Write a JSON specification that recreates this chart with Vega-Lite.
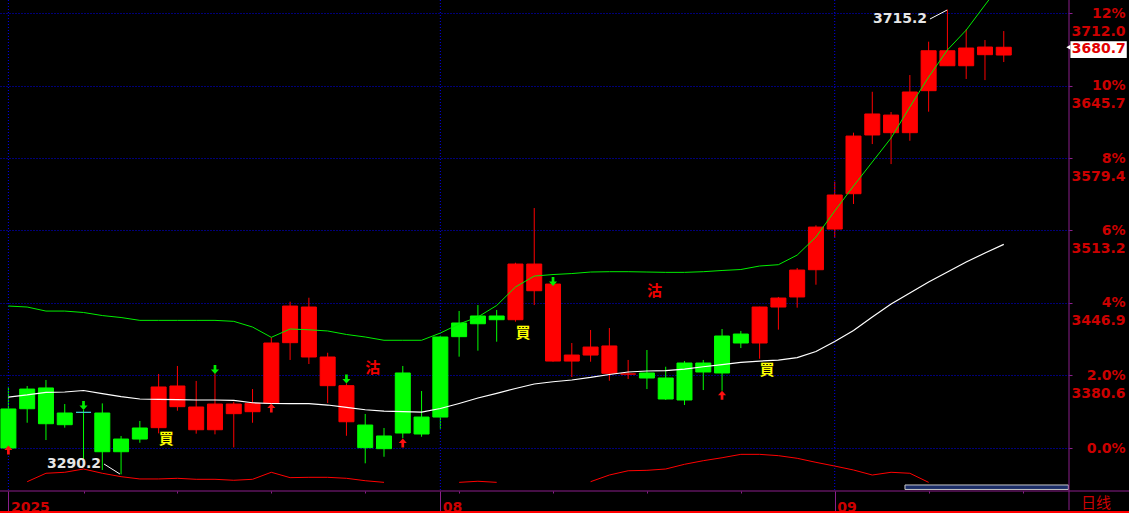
{
  "$schema": "https://vega.github.io/schema/vega-lite/v6.json",
  "width": 1069,
  "height": 491,
  "autosize": {"type": "none"},
  "padding": {"left": 0, "top": 0, "right": 60, "bottom": 22},
  "background": "#000000",
  "config": {"view": {"stroke": null}},
  "datasets": {
    "k": [
      {"i": 0, "o": 3350.0, "h": 3370.3, "l": 3313.5, "c": 3314.3, "g": 3444.1, "w": 3360.9, "r": null},
      {"i": 1, "o": 3368.2, "h": 3371.0, "l": 3337.4, "c": 3350.2, "g": 3443.2, "w": 3362.8, "r": 3283.5},
      {"i": 2, "o": 3369.2, "h": 3376.5, "l": 3321.6, "c": 3336.5, "g": 3439.5, "w": 3365.2, "r": 3291.2},
      {"i": 3, "o": 3346.3, "h": 3354.5, "l": 3332.9, "c": 3335.6, "g": 3439.5, "w": 3365.5, "r": 3292.1},
      {"i": 4, "o": 3346.9, "h": 3349.0, "l": 3304.0, "c": 3346.9, "g": 3438.2, "w": 3366.9, "r": 3295.1},
      {"i": 5, "o": 3346.3, "h": 3355.1, "l": 3294.2, "c": 3310.9, "g": 3435.4, "w": 3364.1, "r": 3291.2},
      {"i": 6, "o": 3322.5, "h": 3325.3, "l": 3290.2, "c": 3310.9, "g": 3433.6, "w": 3361.2, "r": 3288.1},
      {"i": 7, "o": 3332.6, "h": 3339.0, "l": 3319.1, "c": 3322.5, "g": 3431.0, "w": 3359.1, "r": 3286.0},
      {"i": 8, "o": 3332.9, "h": 3382.0, "l": 3327.7, "c": 3370.1, "g": 3431.0, "w": 3358.7, "r": 3286.0},
      {"i": 9, "o": 3352.1, "h": 3389.3, "l": 3348.4, "c": 3371.0, "g": 3431.0, "w": 3358.5, "r": 3286.6},
      {"i": 10, "o": 3331.0, "h": 3375.6, "l": 3327.4, "c": 3351.8, "g": 3431.0, "w": 3358.2, "r": 3285.7},
      {"i": 11, "o": 3331.0, "h": 3382.6, "l": 3326.8, "c": 3354.5, "g": 3431.0, "w": 3358.2, "r": 3285.7},
      {"i": 12, "o": 3345.7, "h": 3356.6, "l": 3314.8, "c": 3354.5, "g": 3430.1, "w": 3357.9, "r": 3284.8},
      {"i": 13, "o": 3347.5, "h": 3368.2, "l": 3337.4, "c": 3355.1, "g": 3424.9, "w": 3355.7, "r": 3285.7},
      {"i": 14, "o": 3355.4, "h": 3415.5, "l": 3355.4, "c": 3410.3, "g": 3415.5, "w": 3355.0, "r": 3292.1},
      {"i": 15, "o": 3410.6, "h": 3448.1, "l": 3394.8, "c": 3444.1, "g": 3423.1, "w": 3354.8, "r": 3287.2},
      {"i": 16, "o": 3397.5, "h": 3451.7, "l": 3391.1, "c": 3443.2, "g": 3422.4, "w": 3354.8, "r": 3287.5},
      {"i": 17, "o": 3371.3, "h": 3401.4, "l": 3355.4, "c": 3397.5, "g": 3421.3, "w": 3353.6, "r": 3287.5},
      {"i": 18, "o": 3338.3, "h": 3373.4, "l": 3325.5, "c": 3371.3, "g": 3418.1, "w": 3351.5, "r": 3286.6},
      {"i": 19, "o": 3335.3, "h": 3345.4, "l": 3300.3, "c": 3314.6, "g": 3415.8, "w": 3349.3, "r": 3284.4},
      {"i": 20, "o": 3325.3, "h": 3332.6, "l": 3306.3, "c": 3313.7, "g": 3412.8, "w": 3348.1, "r": 3282.9},
      {"i": 21, "o": 3382.9, "h": 3389.3, "l": 3323.2, "c": 3328.0, "g": 3412.8, "w": 3347.5, "r": null},
      {"i": 22, "o": 3342.6, "h": 3366.4, "l": 3324.6, "c": 3327.1, "g": 3412.8, "w": 3347.2, "r": null},
      {"i": 23, "o": 3415.8, "h": 3417.0, "l": 3331.9, "c": 3342.6, "g": 3419.4, "w": 3350.4, "r": null},
      {"i": 24, "o": 3428.6, "h": 3439.6, "l": 3397.8, "c": 3416.1, "g": 3427.7, "w": 3355.0, "r": 3282.9},
      {"i": 25, "o": 3435.0, "h": 3445.0, "l": 3403.3, "c": 3427.9, "g": 3434.1, "w": 3360.0, "r": 3283.9},
      {"i": 26, "o": 3435.0, "h": 3440.5, "l": 3411.5, "c": 3431.6, "g": 3444.6, "w": 3364.3, "r": 3282.9},
      {"i": 27, "o": 3431.6, "h": 3483.7, "l": 3429.8, "c": 3482.5, "g": 3461.5, "w": 3368.7, "r": null},
      {"i": 28, "o": 3458.1, "h": 3533.7, "l": 3445.0, "c": 3482.5, "g": 3471.5, "w": 3372.8, "r": null},
      {"i": 29, "o": 3393.8, "h": 3465.2, "l": 3393.2, "c": 3464.2, "g": 3472.9, "w": 3374.9, "r": null},
      {"i": 30, "o": 3393.8, "h": 3410.3, "l": 3379.2, "c": 3399.3, "g": 3473.8, "w": 3376.5, "r": null},
      {"i": 31, "o": 3399.3, "h": 3422.2, "l": 3393.2, "c": 3406.6, "g": 3475.2, "w": 3378.8, "r": 3283.5},
      {"i": 32, "o": 3382.6, "h": 3424.0, "l": 3375.8, "c": 3407.6, "g": 3475.5, "w": 3381.5, "r": 3289.6},
      {"i": 33, "o": 3381.9, "h": 3394.8, "l": 3377.4, "c": 3382.0, "g": 3475.5, "w": 3383.8, "r": 3293.5},
      {"i": 34, "o": 3382.9, "h": 3403.9, "l": 3368.2, "c": 3378.3, "g": 3475.2, "w": 3384.7, "r": 3293.9},
      {"i": 35, "o": 3378.3, "h": 3388.6, "l": 3358.2, "c": 3359.1, "g": 3474.9, "w": 3385.0, "r": 3295.1},
      {"i": 36, "o": 3392.0, "h": 3393.8, "l": 3353.6, "c": 3358.2, "g": 3474.9, "w": 3386.5, "r": 3299.4},
      {"i": 37, "o": 3392.0, "h": 3394.8, "l": 3367.3, "c": 3383.8, "g": 3475.5, "w": 3388.6, "r": 3302.7},
      {"i": 38, "o": 3416.7, "h": 3423.1, "l": 3366.7, "c": 3382.9, "g": 3476.6, "w": 3390.6, "r": 3305.4},
      {"i": 39, "o": 3418.5, "h": 3421.3, "l": 3405.7, "c": 3410.3, "g": 3477.5, "w": 3392.6, "r": 3308.5},
      {"i": 40, "o": 3410.3, "h": 3443.5, "l": 3395.9, "c": 3443.2, "g": 3480.7, "w": 3393.8, "r": 3308.5},
      {"i": 41, "o": 3443.2, "h": 3452.4, "l": 3422.5, "c": 3451.4, "g": 3481.9, "w": 3394.7, "r": 3307.3},
      {"i": 42, "o": 3452.4, "h": 3478.9, "l": 3442.6, "c": 3477.0, "g": 3490.7, "w": 3397.0, "r": 3304.9},
      {"i": 43, "o": 3477.3, "h": 3517.9, "l": 3463.6, "c": 3516.3, "g": 3507.2, "w": 3402.5, "r": 3301.2},
      {"i": 44, "o": 3514.5, "h": 3557.8, "l": 3506.6, "c": 3545.6, "g": 3531.0, "w": 3411.7, "r": 3297.8},
      {"i": 45, "o": 3546.8, "h": 3602.6, "l": 3537.4, "c": 3599.5, "g": 3553.8, "w": 3421.7, "r": 3294.2},
      {"i": 46, "o": 3600.5, "h": 3640.0, "l": 3592.2, "c": 3619.7, "g": 3575.8, "w": 3434.1, "r": 3289.6},
      {"i": 47, "o": 3602.6, "h": 3621.5, "l": 3573.9, "c": 3618.7, "g": 3597.7, "w": 3445.9, "r": 3292.1},
      {"i": 48, "o": 3602.6, "h": 3655.3, "l": 3595.2, "c": 3639.8, "g": 3626.1, "w": 3456.0, "r": 3291.2},
      {"i": 49, "o": 3641.0, "h": 3685.8, "l": 3621.8, "c": 3677.5, "g": 3653.5, "w": 3466.1, "r": 3282.9},
      {"i": 50, "o": 3663.8, "h": 3715.2, "l": 3663.8, "c": 3677.5, "g": 3678.2, "w": 3475.2, "r": null},
      {"i": 51, "o": 3663.8, "h": 3697.1, "l": 3651.7, "c": 3680.0, "g": 3696.4, "w": 3484.3, "r": null},
      {"i": 52, "o": 3673.9, "h": 3687.3, "l": 3650.7, "c": 3680.9, "g": 3719.3, "w": 3492.6, "r": null},
      {"i": 53, "o": 3673.6, "h": 3695.5, "l": 3667.2, "c": 3680.7, "g": 3742.0, "w": 3500.5, "r": null}
    ],
    "months": [
      {"i": 0, "m": "2025"},
      {"i": 23, "m": "08"},
      {"i": 44, "m": "09"}
    ],
    "sig": [
      {"i": 8, "p": 3322.1, "t": "買"},
      {"i": 19, "p": 3387.9, "t": "沽"},
      {"i": 27, "p": 3419.0, "t": "買"},
      {"i": 34, "p": 3458.3, "t": "沽"},
      {"i": 40, "p": 3385.2, "t": "買"}
    ],
    "arrows": [
      {"i": 0, "p": 3312.5, "d": "up"},
      {"i": 4, "p": 3353.2, "d": "down"},
      {"i": 11, "p": 3386.1, "d": "down"},
      {"i": 14, "p": 3350.9, "d": "up"},
      {"i": 18, "p": 3377.4, "d": "down"},
      {"i": 21, "p": 3318.9, "d": "up"},
      {"i": 29, "p": 3466.5, "d": "down"},
      {"i": 38, "p": 3362.5, "d": "up"}
    ],
    "notes": [
      {"i": 5.09, "p": 3299.7, "t": "3290.2"},
      {"i": 49.07, "p": 3706.5, "t": "3715.2"}
    ],
    "leaders": [
      {"a": "lo", "i": 5.09, "p": 3299.7},
      {"a": "lo", "i": 5.94, "p": 3290.5},
      {"a": "hi", "i": 49.07, "p": 3706.5},
      {"a": "hi", "i": 49.98, "p": 3714.7}
    ]
  },
  "layer": [
    {
      "data": {"name": "k"},
      "mark": {"type": "rule", "strokeWidth": 1},
      "encoding": {
        "x": {
          "field": "i", "type": "quantitative",
          "scale": {"domain": [-0.447, 56.474], "nice": false, "zero": false, "padding": 0},
          "axis": {
            "orient": "bottom", "title": null,
            "values": [0, 4, 9, 14, 19, 23, 24, 29, 34, 39, 44, 49, 54],
            "grid": false,
            "domain": false, "tickColor": "#8b1f8b", "tickWidth": 1,
            "tickSize": {"condition": {"test": "datum.value == 0 || datum.value == 23 || datum.value == 44", "value": 20}, "value": 2},
            "labelExpr": "datum.value == 0 ? '2025' : datum.value == 23 ? '08' : datum.value == 44 ? '09' : ''",
            "labelAlign": "left", "labelOffset": 2, "labelBaseline": "alphabetic", "labelPadding": 0,
            "labelColor": "#cc0000", "labelFont": "DejaVu Sans", "labelFontWeight": "bold", "labelFontSize": 14,
            "labelOverlap": false, "labelFlush": false, "labelBound": false
          }
        },
        "y": {
          "field": "l", "type": "quantitative",
          "scale": {"domain": [3275.0, 3723.9], "nice": false, "zero": false, "padding": 0},
          "axis": {
            "orient": "right", "title": null,
            "values": [3314.3, 3380.6, 3446.9, 3513.2, 3579.4, 3645.7, 3712.0],
            "grid": true, "gridColor": "#0000f0", "gridDash": [1, 2], "gridWidth": 1,
            "domain": false, "tickColor": "#8b1f8b", "tickSize": 3,
            "labelExpr": "datum.value < 3320 ? '0.0%' : [datum.value < 3390 ? '2.0%' : format(round((datum.value / 3314.3 - 1) * 100), 'd') + '%', format(datum.value, '.1f')]",
            "labelAlign": "right", "labelPadding": 53, "labelBaseline": "middle", "labelLineHeight": 18,
            "labelColor": "#cc0000", "labelFont": "DejaVu Sans", "labelFontWeight": "bold", "labelFontSize": 14,
            "labelOverlap": false, "labelFlush": false, "labelBound": false
          }
        },
        "y2": {"field": "h"},
        "color": {"condition": {"test": "datum.c > datum.o", "value": "#ff0000"}, "value": "#00ff00"}
      }
    },
    {
      "data": {"name": "months"},
      "mark": {"type": "rule", "color": "#0000f0", "strokeWidth": 1, "strokeDash": [1, 2]},
      "encoding": {
        "x": {"field": "i", "type": "quantitative"}
      }
    },
    {
      "data": {"name": "k"},
      "mark": {"type": "bar", "width": 15, "strokeWidth": 1},
      "encoding": {
        "x": {"field": "i", "type": "quantitative"},
        "y": {"field": "o", "type": "quantitative"},
        "y2": {"field": "c"},
        "fill": {"condition": [{"test": "datum.c > datum.o", "value": "#ff0000"}, {"test": "datum.c == datum.o", "value": "#40c8d0"}], "value": "#00ff00"},
        "stroke": {"condition": [{"test": "datum.c > datum.o", "value": "#ff0000"}, {"test": "datum.c == datum.o", "value": "#40c8d0"}], "value": "#00ff00"}
      }
    },
    {
      "data": {"name": "k"},
      "mark": {"type": "line", "color": "#00ee00", "strokeWidth": 1, "clip": true},
      "encoding": {
        "x": {"field": "i", "type": "quantitative"},
        "y": {"field": "g", "type": "quantitative"}
      }
    },
    {
      "data": {"name": "k"},
      "mark": {"type": "line", "color": "#ffffff", "strokeWidth": 1.2},
      "encoding": {
        "x": {"field": "i", "type": "quantitative"},
        "y": {"field": "w", "type": "quantitative"}
      }
    },
    {
      "data": {"name": "k"},
      "mark": {"type": "line", "color": "#ff0000", "strokeWidth": 1, "invalid": "break-paths-filter-domains"},
      "encoding": {
        "x": {"field": "i", "type": "quantitative"},
        "y": {"field": "r", "type": "quantitative"}
      }
    },
    {
      "data": {"name": "arrows"},
      "mark": {"type": "point", "filled": true, "opacity": 1, "size": 81, "strokeWidth": 0},
      "encoding": {
        "x": {"field": "i", "type": "quantitative"},
        "y": {"field": "p", "type": "quantitative"},
        "shape": {
          "field": "d", "type": "nominal", "legend": null,
          "scale": {"domain": ["up", "down"], "range": ["M0,-1L0.9,0L0.3,0L0.3,1L-0.3,1L-0.3,0L-0.9,0Z", "M-0.3,-1L0.3,-1L0.3,0L0.9,0L0,1L-0.9,0L-0.3,0Z"]}
        },
        "color": {
          "field": "d", "type": "nominal", "legend": null,
          "scale": {"domain": ["up", "down"], "range": ["#ff1010", "#00ee00"]}
        }
      }
    },
    {
      "data": {"name": "sig"},
      "mark": {"type": "text", "font": "Noto Sans CJK SC", "fontSize": 15, "fontWeight": "bold", "dx": 7.5, "baseline": "middle", "align": "center"},
      "encoding": {
        "x": {"field": "i", "type": "quantitative"},
        "y": {"field": "p", "type": "quantitative"},
        "text": {"field": "t"},
        "color": {"condition": {"test": "datum.t == '買'", "value": "#ffff00"}, "value": "#ee0000"}
      }
    },
    {
      "data": {"name": "leaders"},
      "mark": {"type": "line", "color": "#ffffff", "strokeWidth": 1},
      "encoding": {
        "x": {"field": "i", "type": "quantitative"},
        "y": {"field": "p", "type": "quantitative"},
        "detail": {"field": "a"}
      }
    },
    {
      "data": {"name": "notes"},
      "mark": {"type": "text", "font": "DejaVu Sans", "fontSize": 14, "fontWeight": "bold", "color": "#e6e6e6", "align": "right", "baseline": "middle", "dx": -3},
      "encoding": {
        "x": {"field": "i", "type": "quantitative"},
        "y": {"field": "p", "type": "quantitative"},
        "text": {"field": "t"}
      }
    },
    {
      "data": {"values": [{}]},
      "mark": {"type": "rect", "fill": "#1b2d68", "stroke": "#c8c8c8", "strokeWidth": 1},
      "encoding": {
        "x": {"datum": 47.74, "type": "quantitative"},
        "x2": {"datum": 56.44},
        "y": {"datum": 3280.5, "type": "quantitative"},
        "y2": {"datum": 3276.4}
      }
    },
    {
      "data": {"values": [{}]},
      "mark": {"type": "rule", "color": "#8b1f8b", "strokeWidth": 1},
      "encoding": {
        "x": {"datum": 56.474, "type": "quantitative"},
        "y": {"datum": 3723.9, "type": "quantitative"},
        "y2": {"datum": 3257.6}
      }
    },
    {
      "data": {"values": [{}]},
      "mark": {"type": "rule", "color": "#8b1f8b", "strokeWidth": 1},
      "encoding": {
        "x": {"datum": -0.447, "type": "quantitative"},
        "x2": {"datum": 59.7},
        "y": {"datum": 3275.0, "type": "quantitative"}
      }
    },
    {
      "data": {"values": [{}]},
      "mark": {"type": "rule", "color": "#ff0000", "strokeWidth": 2},
      "encoding": {
        "x": {"datum": -0.447, "type": "quantitative"},
        "x2": {"datum": 59.7},
        "y": {"datum": 3255.8, "type": "quantitative"}
      }
    },
    {
      "data": {"values": [{"p": 3680.7}]},
      "mark": {"type": "rect", "fill": "#ffffff"},
      "encoding": {
        "x": {"datum": 56.55, "type": "quantitative"},
        "x2": {"datum": 59.55},
        "y": {"datum": 3686.1, "type": "quantitative"},
        "y2": {"datum": 3670.8}
      }
    },
    {
      "data": {"values": [{"p": 3680.7}]},
      "mark": {"type": "point", "shape": "triangle-left", "filled": true, "color": "#ffffff", "opacity": 1, "size": 24, "xOffset": -2},
      "encoding": {
        "x": {"datum": 56.55, "type": "quantitative"},
        "y": {"field": "p", "type": "quantitative"}
      }
    },
    {
      "data": {"values": [{"p": 3680.7}]},
      "mark": {"type": "text", "font": "DejaVu Sans", "fontSize": 14, "fontWeight": "bold", "color": "#e00000", "align": "right", "baseline": "middle", "dy": 2},
      "encoding": {
        "x": {"datum": 59.5, "type": "quantitative"},
        "y": {"field": "p", "type": "quantitative"},
        "text": {"field": "p", "format": ".1f"}
      }
    },
    {
      "data": {"values": [{"t": "日线"}]},
      "mark": {"type": "text", "font": "Noto Sans CJK SC", "fontSize": 15, "color": "#cc0000", "align": "center", "baseline": "middle"},
      "encoding": {
        "x": {"datum": 57.91, "type": "quantitative"},
        "y": {"datum": 3264.0, "type": "quantitative"},
        "text": {"field": "t"}
      }
    }
  ]
}
